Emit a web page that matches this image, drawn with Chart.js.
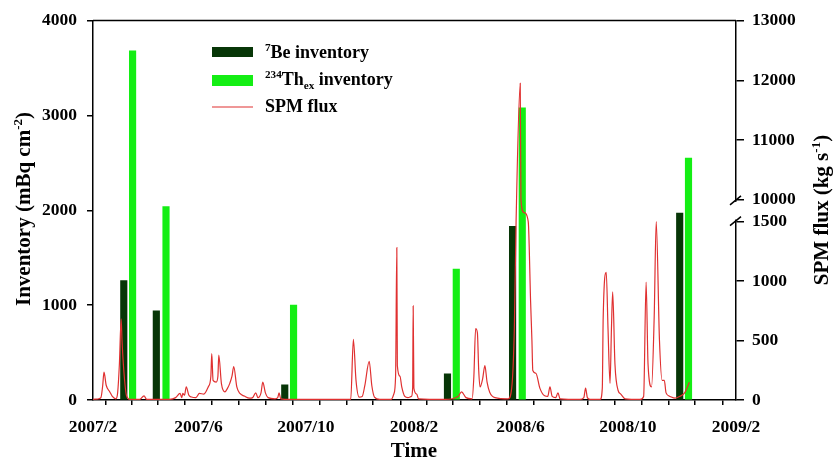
<!DOCTYPE html>
<html>
<head>
<meta charset="utf-8">
<script src="https://cdn.jsdelivr.net/npm/chart.js@4.4.1/dist/chart.umd.min.js"></script>
<style>
  html, body { margin: 0; padding: 0; background: #fff; }
  #wrap { width: 835px; height: 463px; }
</style>
</head>
<body>
<div id="wrap"><canvas id="chart" width="835" height="463"></canvas></div>
<script>
const START = Date.UTC(2007, 1, 1);
const dayOf = s => (Date.parse(s + 'T00:00:00Z') - START) / 86400000;

const tickLabels = ['2007/2', '2007/6', '2007/10', '2008/2', '2008/6', '2008/10', '2009/2'];
const inventoryTicks = [0, 1000, 2000, 3000, 4000];
const fluxTicks = [0, 500, 1000, 1500, 10000, 11000, 12000, 13000];

const beDates = ['2007-03-08', '2007-04-14', '2007-09-07', '2008-03-10', '2008-05-23', '2008-11-29'];
const beInventory = [1260, 940, 160, 275, 1830, 1970];

const thDates = ['2007-03-18', '2007-04-25', '2007-09-17', '2008-03-20', '2008-06-03', '2008-12-09'];
const thInventory = [3680, 2040, 1000, 1380, 3080, 2550];

// SPM flux, x = days after 2007-02-01
const spmDays = [0, 5, 9, 11, 12.5, 15, 19, 22, 26, 28, 30, 32, 33, 35, 38, 42, 53, 58, 61, 87,
  94, 99, 101, 102, 104, 106, 109, 112, 117, 121, 126, 131, 134, 135, 136.5, 140, 142, 143, 146, 150,
  153, 155.5, 158, 160, 163.5, 167, 172, 178, 181.5, 185, 187.5, 191, 193, 196, 199, 207, 210, 211.5, 213.5, 224,
  293, 296, 299, 302.5, 306, 309, 314, 317, 320, 326, 339, 342, 344, 345.4, 346, 349, 351, 354.5, 358, 362,
  363.4, 364, 364.8, 368, 370, 400, 415, 419, 424, 431, 433, 435, 437, 438.5, 440, 443, 445.5, 448, 451, 457,
  472, 476, 479, 481, 485.7, 486.5, 490, 494.8, 497.5, 499, 500, 503.5, 508, 513.5, 517, 519.5, 522, 526, 528.6, 531,
  553.6, 558, 560, 562, 565, 576.6, 579, 580, 583.5, 585.5, 587.8, 589.4, 590.8, 593.4, 597, 600, 605, 622, 626, 628.8,
  631, 635, 638, 640.3, 644, 647, 649.5, 651.5, 656, 661.7, 667, 672.6, 678];
const spmFlux = [5, 8, 20, 120, 234, 124, 70, 30, 10, 60, 300, 683, 500, 250, 40, 5, 5, 35, 5, 5,
  20, 55, 20, 55, 40, 110, 40, 25, 20, 55, 50, 110, 200, 391, 165, 150, 200, 377, 138, 69,
  100, 140, 200, 281, 110, 55, 33, 15, 20, 60, 20, 60, 151, 60, 20, 10, 20, 60, 10, 5,
  5, 510, 165, 25, 30, 120, 325, 120, 25, 5, 5, 50, 200, 1281, 289, 200, 110, 30, 20, 30,
  100, 791, 100, 50, 10, 5, 30, 69, 20, 10, 200, 601, 565, 250, 110, 180, 289, 150, 66, 20,
  10, 100, 600, 1500, 11950, 10000, 5000, 1500, 826, 500, 248, 225, 100, 35, 30, 110, 30, 20, 60, 10,
  5, 20, 100, 20, 5, 5, 100, 689, 1074, 600, 140, 600, 909, 300, 80, 50, 10, 5, 30, 992,
  300, 110, 700, 1502, 500, 165, 165, 60, 30, 15, 30, 60, 150];

// broken right axis: 0-1500 below the break, 10000-13000 above it
function fluxAxis(v) {
  if (v <= 1500) return v * 181 / 1500;
  if (v <= 10000) return 181 + (v - 1500) * 22 / 8500;
  return 203 + (v - 10000) * 182 / 3000;
}

const SERIF = '"Liberation Serif", "Times New Roman", serif';
Chart.defaults.font.family = SERIF;
Chart.defaults.font.weight = 'bold';
Chart.defaults.font.size = 17.5;
Chart.defaults.color = '#000';

const BE_COLOR = '#073607';
const TH_COLOR = '#14ee14';
const SPM_COLOR = '#e03030';

function richWidth(ctx, parts, size) {
  let w = 0;
  for (const [t, s] of parts) {
    ctx.font = `bold ${s ? size * 0.62 : size}px ${SERIF}`;
    w += ctx.measureText(t).width;
  }
  return w;
}
function richText(ctx, parts, x, y, size) {
  let cx = x;
  ctx.textAlign = 'left';
  ctx.textBaseline = 'alphabetic';
  for (const [t, s] of parts) {
    ctx.font = `bold ${s ? size * 0.62 : size}px ${SERIF}`;
    const dy = s === 1 ? -size * 0.4 : s === -1 ? size * 0.22 : 0;
    ctx.fillText(t, cx, y + dy);
    cx += ctx.measureText(t).width;
  }
}

const decorations = {
  id: 'decorations',
  afterDraw(chart) {
    const { ctx, chartArea: a, scales } = chart;
    ctx.save();
    ctx.fillStyle = '#000';
    ctx.strokeStyle = '#000';
    ctx.lineWidth = 1.5;
    // top frame line
    ctx.beginPath();
    ctx.moveTo(a.left, a.top);
    ctx.lineTo(a.right, a.top);
    ctx.stroke();

    // axis break on the right
    const yHi = scales.y2.getPixelForValue(fluxAxis(10000));
    const yLo = scales.y2.getPixelForValue(fluxAxis(1500));
    ctx.fillStyle = '#fff';
    ctx.fillRect(a.right - 3, yHi + 2, 6, yLo - yHi - 4);
    ctx.beginPath();
    ctx.moveTo(a.right - 6, yHi + 5); ctx.lineTo(a.right + 5, yHi - 4);
    ctx.moveTo(a.right - 6, yLo + 4); ctx.lineTo(a.right + 5, yLo - 5);
    ctx.stroke();

    // legend
    ctx.fillStyle = BE_COLOR;
    ctx.fillRect(212, 47, 41, 10);
    ctx.fillStyle = TH_COLOR;
    ctx.fillRect(212, 75, 41, 11);
    ctx.strokeStyle = SPM_COLOR;
    ctx.lineWidth = 1.2;
    ctx.beginPath();
    ctx.moveTo(212, 107); ctx.lineTo(253, 107);
    ctx.stroke();
    ctx.fillStyle = '#000';
    richText(ctx, [['7', 1], ['Be inventory', 0]], 265, 58, 18);
    richText(ctx, [['234', 1], ['Th', 0], ['ex', -1], [' inventory', 0]], 265, 85, 18);
    richText(ctx, [['SPM flux', 0]], 265, 112, 18);

    // axis titles
    const left = [['Inventory (mBq cm', 0], ['-2', 1], [')', 0]];
    ctx.save();
    ctx.translate(30, 209);
    ctx.rotate(-Math.PI / 2);
    richText(ctx, left, -richWidth(ctx, left, 21) / 2, 0, 21);
    ctx.restore();

    const right = [['SPM flux (kg s', 0], ['-1', 1], [')', 0]];
    ctx.save();
    ctx.translate(828, 210);
    ctx.rotate(-Math.PI / 2);
    richText(ctx, right, -richWidth(ctx, right, 21) / 2, 0, 21);
    ctx.restore();

    const bottom = [['Time', 0]];
    richText(ctx, bottom, 414 - richWidth(ctx, bottom, 21) / 2, 457, 21);
    ctx.restore();
  }
};

const monthTicks = [];
for (let i = 0; i <= 24; i++) {
  monthTicks.push((Date.UTC(2007, 1 + i, 1) - START) / 86400000);
}

new Chart(document.getElementById('chart'), {
  type: 'bar',
  data: {
    datasets: [
      {
        type: 'line',
        label: 'SPM flux',
        data: spmDays.map((d, i) => ({ x: d, y: fluxAxis(spmFlux[i]) })),
        yAxisID: 'y2',
        borderColor: SPM_COLOR,
        borderWidth: 1.2,
        pointRadius: 0,
        cubicInterpolationMode: 'monotone',
        order: 0
      },
      {
        label: '7Be inventory',
        data: beDates.map((d, i) => ({ x: dayOf(d), y: beInventory[i] })),
        backgroundColor: BE_COLOR,
        barThickness: 6.5,
        grouped: false,
        yAxisID: 'y',
        order: 1
      },
      {
        label: '234Thex inventory',
        data: thDates.map((d, i) => ({ x: dayOf(d), y: thInventory[i] })),
        backgroundColor: TH_COLOR,
        barThickness: 6.5,
        grouped: false,
        yAxisID: 'y',
        order: 1
      }
    ]
  },
  options: {
    responsive: false,
    animation: false,
    layout: { padding: { top: 15, left: 0, right: 0, bottom: 0 } },
    plugins: {
      legend: { display: false },
      tooltip: { enabled: false }
    },
    scales: {
      x: {
        type: 'linear',
        offset: false,
        min: 0,
        max: monthTicks[24],
        afterBuildTicks: s => { s.ticks = monthTicks.map(v => ({ value: v })); },
        afterFit: s => { s.height = 63; },
        grid: { drawOnChartArea: false, drawTicks: true, tickLength: 5, color: '#000', lineWidth: 1.5 },
        border: { color: '#000', width: 1.5 },
        ticks: {
          autoSkip: false,
          maxRotation: 0,
          padding: 12,
          callback: (v, i) => (i % 4 === 0 ? tickLabels[i / 4] : '')
        }
      },
      y: {
        position: 'left',
        min: 0,
        max: 4000,
        afterBuildTicks: s => { s.ticks = inventoryTicks.map(v => ({ value: v })); },
        afterFit: s => { s.width = 93; },
        grid: { drawOnChartArea: false, drawTicks: true, tickLength: 6, color: '#000', lineWidth: 1.5 },
        border: { color: '#000', width: 1.5 },
        ticks: { padding: 10, callback: v => String(v) }
      },
      y2: {
        position: 'right',
        min: 0,
        max: 385,
        afterBuildTicks: s => { s.ticks = fluxTicks.map(v => ({ value: fluxAxis(v) })); },
        afterFit: s => { s.width = 99; },
        grid: { drawOnChartArea: false, drawTicks: true, tickLength: 8, color: '#000', lineWidth: 1.5 },
        border: { color: '#000', width: 1.5 },
        ticks: { padding: 8, callback: (v, i) => String(fluxTicks[i]) }
      }
    }
  },
  plugins: [decorations]
});
</script>
</body>
</html>
